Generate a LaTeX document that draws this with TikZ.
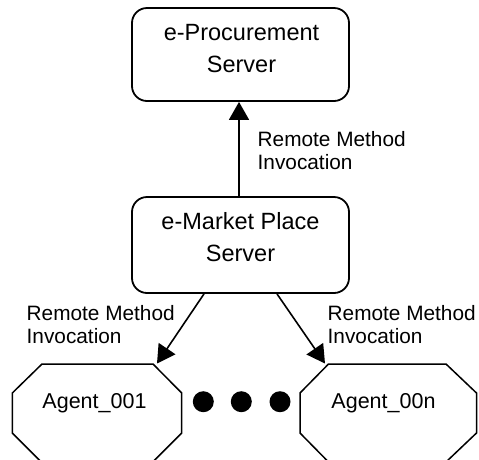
\documentclass[tikz,border=0pt]{standalone}
\usepackage{fontspec}
\setmainfont{Liberation Sans}
\usetikzlibrary{arrows.meta}
\begin{document}
\begin{tikzpicture}[x=1pt,y=-1pt,
  box/.style={draw, line width=1.8pt, rounded corners=15pt, minimum width=217pt, inner sep=0pt},
  boxtext/.style={anchor=base, inner sep=0pt, font=\fontsize{23.5}{28}\selectfont},
  lbl/.style={anchor=base west, inner sep=0pt, font=\fontsize{20.8}{24}\selectfont},
  agenttext/.style={anchor=base, inner sep=0pt, font=\fontsize{21.5}{26}\selectfont},
  oct/.style={draw, line width=1.5pt, line join=miter},
  arr/.style={line width=1.6pt, -{Triangle[length=18pt,width=20pt]}},
  dot/.style={fill=black}]
\useasboundingbox (0,0) rectangle (479,459);
\clip (0,0) rectangle (479,459);
% boxes
\node[box, minimum height=93pt] (proc) at (240.5,54.5) {};
\node[box, minimum height=96pt] (mkt) at (240.5,245) {};
\node[boxtext] (proc1) at (241.5,40) {e-Procurement};
\node[boxtext] (proc2) at (241.5,72) {Server};
\node[boxtext] (mkt1) at (240.5,229.5) {e-Market Place};
\node[boxtext] (mkt2) at (240.5,261.5) {Server};
% octagons
\draw[oct] (42,364) coordinate (octLtl) -- (153,364) coordinate (octLtr) -- (181.7,393) -- (181.7,433) -- (152.7,462) -- (41.3,462) -- (12.3,433) -- (12.3,393) -- cycle;
\draw[oct] (328.5,364) coordinate (octRtl) -- (446,364) coordinate (octRtr) -- (476.5,393) -- (476.5,433) -- (446,462) -- (328.5,462) -- (300,433) -- (300,393) -- cycle;
\node[agenttext] (a1) at (94.5,408) {Agent\_001};
\node[agenttext] (an) at (383.5,408) {Agent\_00n};
% dots
\fill[dot] (203.3,401.7) coordinate (d1) circle[radius=10.5pt];
\fill[dot] (241.3,401.7) coordinate (d2) circle[radius=10.5pt];
\fill[dot] (280,401.7) coordinate (d3) circle[radius=10.5pt];
% connectors
\coordinate (tipL) at (157,363.5);
\coordinate (tipR) at (325,363.5);
\draw[arr] ([xshift=-1.5pt]mkt.north) -- ([xshift=-1.5pt]proc.south);
\draw[arr] ([xshift=-36.5pt]mkt.south) -- (tipL);
\draw[arr] ([xshift=36.5pt]mkt.south) -- (tipR);
% labels
\node[lbl] (c1) at (257.5,146.7) {Remote Method};
\node[lbl] (c2) at (257.5,169.5) {Invocation};
\node[lbl] (l1) at (26.5,320) {Remote Method};
\node[lbl] (l2) at (26.5,343) {Invocation};
\node[lbl] (r1) at (327.5,320) {Remote Method};
\node[lbl] (r2) at (327.5,343) {Invocation};
\end{tikzpicture}
\end{document}
